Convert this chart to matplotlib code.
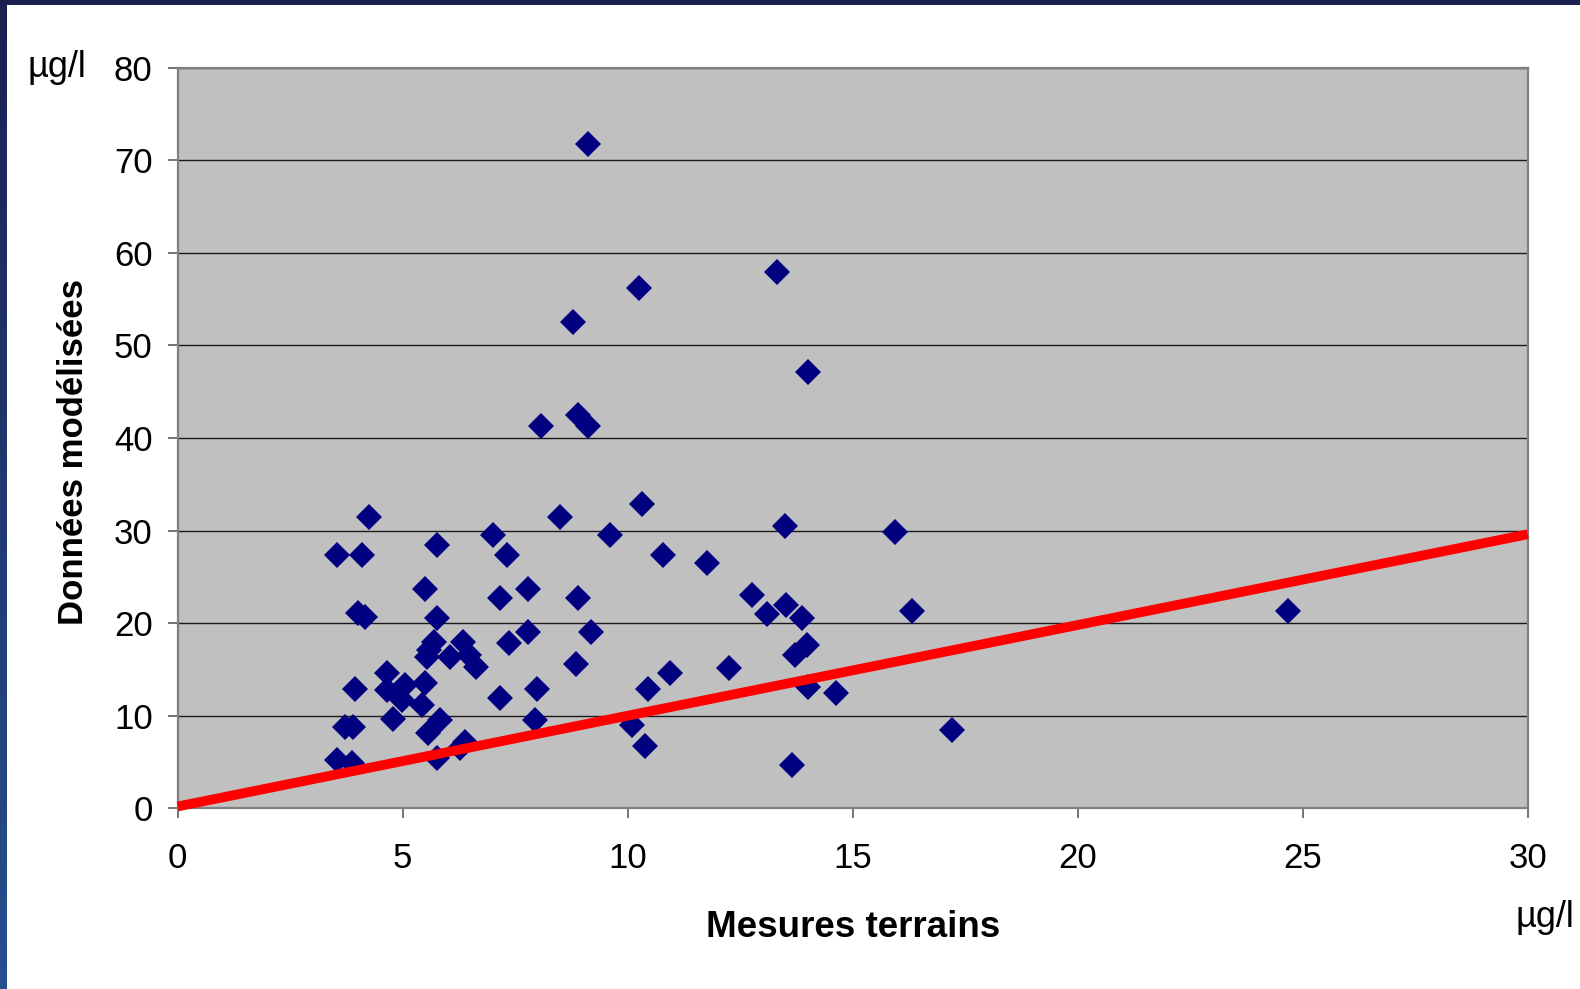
import numpy as np
import matplotlib
matplotlib.use("Agg")
import matplotlib.pyplot as plt
from matplotlib.colors import LinearSegmentedColormap
from matplotlib.patches import Rectangle

plt.rcParams['font.family'] = ['Liberation Sans', 'DejaVu Sans']

# mesures terrains (x) / donnees modelisees (y), en ug/l
mesures = [9.12, 10.24, 8.78, 13.31, 14.01, 8.07, 8.90, 9.12,
           4.24, 8.50, 10.31, 7.01, 9.61, 5.77, 3.53, 4.09, 7.31, 10.79,
           5.50, 7.79, 7.16, 8.90, 4.01, 4.16, 5.77, 7.79, 9.18, 7.37,
           13.50, 15.94, 11.77, 24.67,
           12.76, 13.52, 13.10, 13.87, 16.31, 13.99, 13.72, 12.26, 14.00,
           14.63, 17.20, 13.66,
           5.70, 5.59, 5.55, 6.05, 6.35, 6.47, 6.63,
           8.84, 5.50, 4.64, 4.64, 5.05, 4.98, 5.42, 4.79, 5.83, 5.57, 5.76,
           6.27, 6.38, 3.94, 3.72, 3.90, 3.53, 3.87, 7.16, 7.99, 7.94, 10.44,
           10.94, 10.09, 10.38]
modele = [71.8, 56.2, 52.5, 57.9, 47.1, 41.3, 42.5, 41.3,
          31.5, 31.5, 32.9, 29.5, 29.5, 28.4, 27.4, 27.4, 27.4, 27.4,
          23.7, 23.7, 22.7, 22.7, 21.1, 20.7, 20.6, 19.0, 19.0, 17.9,
          30.5, 29.85, 26.5, 21.35,
          23.0, 22.0, 21.0, 20.6, 21.3, 17.6, 16.6, 15.2, 13.1,
          12.5, 8.5, 4.7,
          18.0, 17.1, 16.3, 16.3, 18.0, 16.6, 15.3,
          15.6, 13.5, 14.6, 12.8, 13.3, 11.7, 11.2, 9.7, 9.5, 8.1, 5.4,
          6.5, 7.2, 12.9, 8.8, 8.8, 5.2, 4.9, 11.9, 12.9, 9.5, 12.9,
          14.6, 9.0, 6.7]

# droite de reference
ligne_x = [0, 30]
ligne_y = [0.2, 29.6]

x_ticks = [0, 5, 10, 15, 20, 25, 30]
y_ticks = [0, 10, 20, 30, 40, 50, 60, 70, 80]

W, H = 1580, 989
fig = plt.figure(figsize=(W / 100, H / 100), dpi=100, facecolor='white')

# cadre bleu (bord gauche en degrade, bande du haut)
band = fig.add_axes([0, 0, 7 / W, 1])
cmap = LinearSegmentedColormap.from_list('cadre', ['#1b2052', '#26508f'])
band.imshow(np.linspace(0, 1, 256).reshape(-1, 1), aspect='auto', cmap=cmap)
band.axis('off')
fig.patches.append(Rectangle((0, 1 - 5 / H), 1, 5 / H, transform=fig.transFigure,
                             facecolor='#1b1f50', edgecolor='none'))

ax = fig.add_axes([177.7 / W, 1 - 808.3 / H, 1350 / W, 740.6 / H])
ax.set_facecolor('#c0c0c0')

ax.plot(mesures, modele, linestyle='none', marker='D', markersize=13,
        color='#000080', markeredgewidth=0, zorder=3)
ax.plot(ligne_x, ligne_y, color='#ff0000', linewidth=7, zorder=4,
        solid_capstyle='butt', clip_on=False)

ax.set_xlim(0, 30)
ax.set_ylim(0, 80)
ax.set_xticks(x_ticks)
ax.set_yticks(y_ticks)
ax.yaxis.grid(True, color='#1a1a1a', linewidth=1.0, zorder=1)
ax.set_axisbelow(True)

for s in ax.spines.values():
    s.set_color('#808080')
    s.set_linewidth(1.6)

ax.tick_params(axis='both', direction='out', length=7, width=1.1, color='#505050',
               labelsize=25, labelcolor='black')
ax.tick_params(axis='x', pad=17)
ax.tick_params(axis='y', pad=11)

ax.set_xlabel('Mesures terrains', fontsize=26.5, fontweight='bold')
ax.xaxis.set_label_coords(0.5, -0.1734)
ax.xaxis.label.set_va('baseline')

ax.set_ylabel('Données modélisées', fontsize=25, fontweight='bold')
ax.yaxis.set_label_coords(-0.0699, 0.4815)
ax.yaxis.label.set_va('baseline')

fig.text(28 / W, 1 - 77 / H, 'µg/l', fontsize=26, va='baseline', ha='left')
fig.text(1516 / W, 1 - 927 / H, 'µg/l', fontsize=26, va='baseline', ha='left')

fig.savefig('out.png', dpi=100, facecolor='white')
